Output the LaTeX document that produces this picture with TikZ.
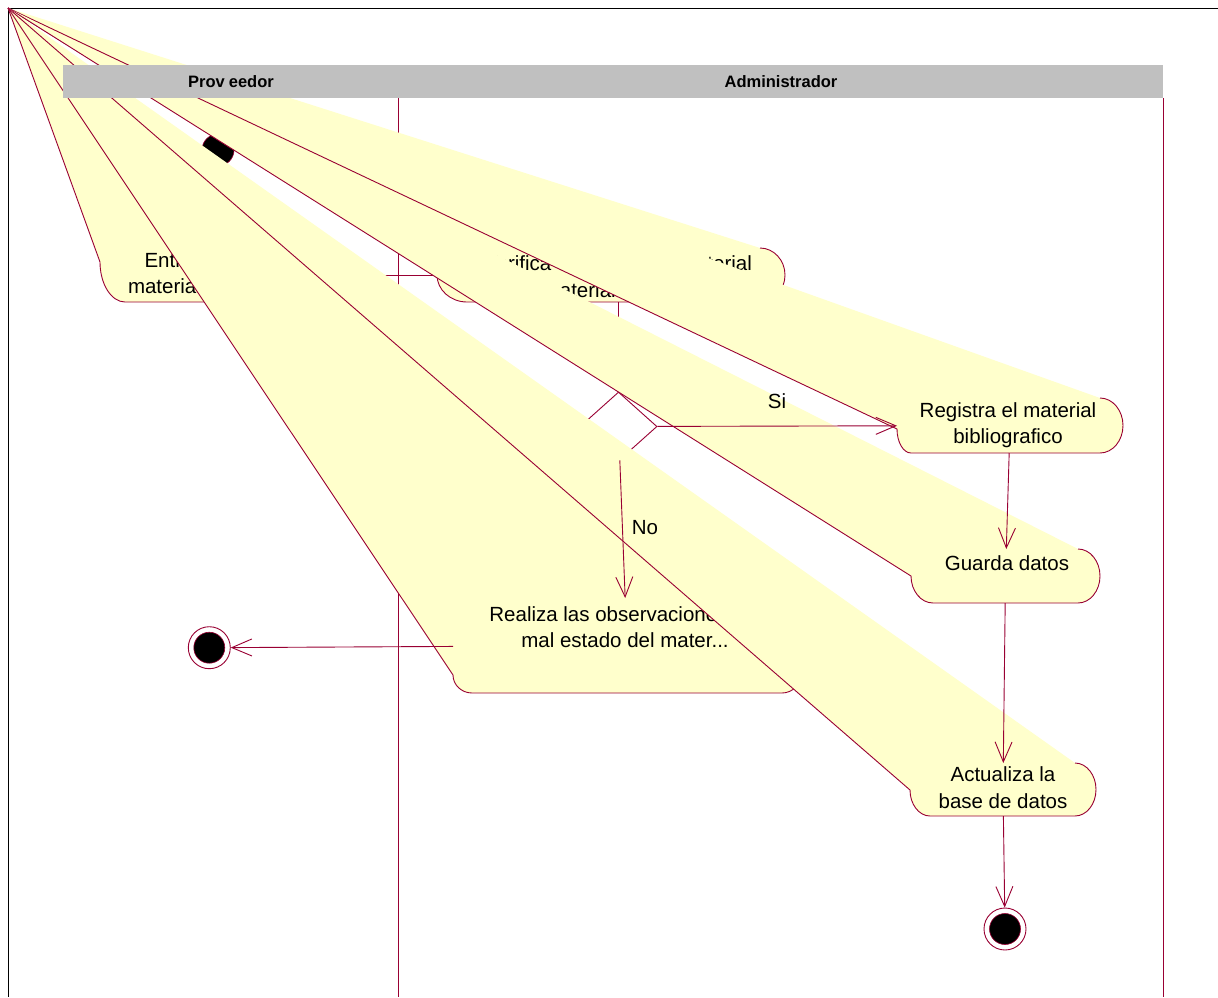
\documentclass[tikz,border=0pt]{standalone}
\usepackage{fontspec}
\setmainfont{Liberation Sans}
\usetikzlibrary{arrows.meta,shapes.geometric}
\definecolor{rosered}{RGB}{153,0,51}
\definecolor{roseyellow}{RGB}{255,255,204}
\definecolor{rosegray}{RGB}{192,192,192}
\tikzset{
  wedgefill/.style={fill=roseyellow},
  wedgeline/.style={draw=rosered, line width=0.9pt, line join=round},
  statebox/.style={rectangle, inner sep=0pt, outer sep=0pt},
  lbl/.style={font=\fontsize{20.5}{26.5}\selectfont, align=center, inner sep=0pt},
  hdrtext/.style={font=\fontsize{16.5}{20}\selectfont\bfseries, inner sep=0pt},
  conn/.style={draw=rosered, line width=0.9pt, -{Straight Barb[length=20pt,width=17pt]}},
  plainconn/.style={draw=rosered, line width=0.9pt},
  laneline/.style={draw=rosered, line width=0.9pt},
  decis/.style={diamond, draw=rosered, line width=0.9pt, inner sep=0pt, minimum width=77pt, minimum height=69pt},
  initst/.style={circle, fill=black, draw=rosered, line width=0.6pt, inner sep=0pt, minimum size=32pt},
  finalst/.style={circle, fill=white, draw=rosered, line width=0.9pt, inner sep=0pt, minimum size=42pt}
}
% L R T B rxRight ryRight rxLeft ryLeft
\newcommand{\actwedge}[8]{%
  \fill[wedgefill] (8,8) -- ({#2-#5},#3) .. controls ({#2-0.45*#5},#3) and (#2,{#3+0.45*#6}) .. (#2,{#3+#6})
    -- (#2,{#4-#6}) .. controls (#2,{#4-0.45*#6}) and ({#2-0.45*#5},#4) .. ({#2-#5},#4)
    -- ({#1+#7},#4) .. controls ({#1+0.45*#7},#4) and (#1,{#4-0.45*#8}) .. (#1,{#4-#8}) -- cycle;
  \draw[wedgeline] ({#2-#5},#3) .. controls ({#2-0.45*#5},#3) and (#2,{#3+0.45*#6}) .. (#2,{#3+#6})
    -- (#2,{#4-#6}) .. controls (#2,{#4-0.45*#6}) and ({#2-0.45*#5},#4) .. ({#2-#5},#4)
    -- ({#1+#7},#4) .. controls ({#1+0.45*#7},#4) and (#1,{#4-0.45*#8}) .. (#1,{#4-#8}) -- (8,8);
}
\begin{document}
\begin{tikzpicture}[x=1pt, y=-1pt]
\useasboundingbox (0,0) rectangle (1218,997);
\fill[white] (0,0) rectangle (1218,997);

% state boxes (invisible, used for connectors)
\node[statebox, minimum width=260pt, minimum height=54pt] (A) at (230,275) {};
\node[statebox, minimum width=348pt, minimum height=54pt] (B) at (611,275) {};
\node[statebox, minimum width=226pt, minimum height=55pt] (C) at (1010,425.5) {};
\node[statebox, minimum width=189pt, minimum height=54pt] (D) at (1005.5,576) {};
\node[statebox, minimum width=348pt, minimum height=95pt] (E) at (627,645.5) {};
\node[statebox, minimum width=186pt, minimum height=53pt] (F) at (1003,789.5) {};

% frame and swimlane lines
\draw[laneline] (398,98) -- (398,997);
\draw[laneline] (1163,98) -- (1163,997);
\draw[black, line width=1pt] (1218,8) -- (8,8) -- (8,997);

% Entrega
\actwedge{100}{360}{248}{302}{24}{27}{25}{40}
\node[lbl] (tA) at (222,275) {Entrega el nuevo\\material bibliografico};

% initial state
\node[initst] (init) at (218,150) {};

% Verifica
\actwedge{437}{785}{248}{302}{25}{27}{30}{27}
\node[lbl] (tB) at (618,276.5) {Verifica el estado del material\\material recibido};

\node[decis] (dia) at (618.5,426.5) {};
\draw[plainconn] (A) -- (B);
\draw[conn] (dia.north |- B.south) -- (dia.north);

% Registra
\actwedge{897}{1123}{398}{453}{23}{27.5}{14}{24}
\node[lbl] (tC) at (1008,425) {Registra el material\\bibliografico};

% Guarda
\actwedge{911}{1100}{549}{603}{22}{27}{22}{27}
\node[lbl] (tD) at (1007,563) {Guarda datos};

% Realiza
\actwedge{453}{801}{598}{693}{19}{19}{19}{18}
\node[lbl] (tE) at (625,627) {Realiza las observaciones del\\mal estado del mater...};

% Actualiza
\actwedge{910}{1096}{763}{816}{21}{26.5}{20}{26}
\node[lbl] (tF) at (1003,787.5) {Actualiza la\\base de datos};

% final states
\node[finalst] (finL) at (209.3,647.7) {};
\filldraw[fill=black, draw=rosered, line width=0.6pt] (finL.center) circle[radius=15.5];
\node[finalst] (finR) at (1005,929) {};
\filldraw[fill=black, draw=rosered, line width=0.6pt] (finR.center) circle[radius=15.5];

% transitions
\draw[conn] (dia) -- (C);
\draw[conn] (dia) -- (E);
\draw[conn] (C) -- (D);
\draw[conn] (D) -- (F);
\draw[conn] (F) -- (finR);
\draw[conn] (E) -- (finL);
\node[lbl] (si) at (777,401) {Si};
\node[lbl] (no) at (645,528) {No};

% swimlane header
\node[fill=rosegray, minimum width=1100pt, minimum height=33pt, inner sep=0pt] (hdr) at (613,81.5) {};
\node[hdrtext] (lane1) at (231,81.5) {Prov\kern4pt eedor};
\node[hdrtext] (lane2) at (781,81.5) {Administrador};
\end{tikzpicture}
\end{document}
